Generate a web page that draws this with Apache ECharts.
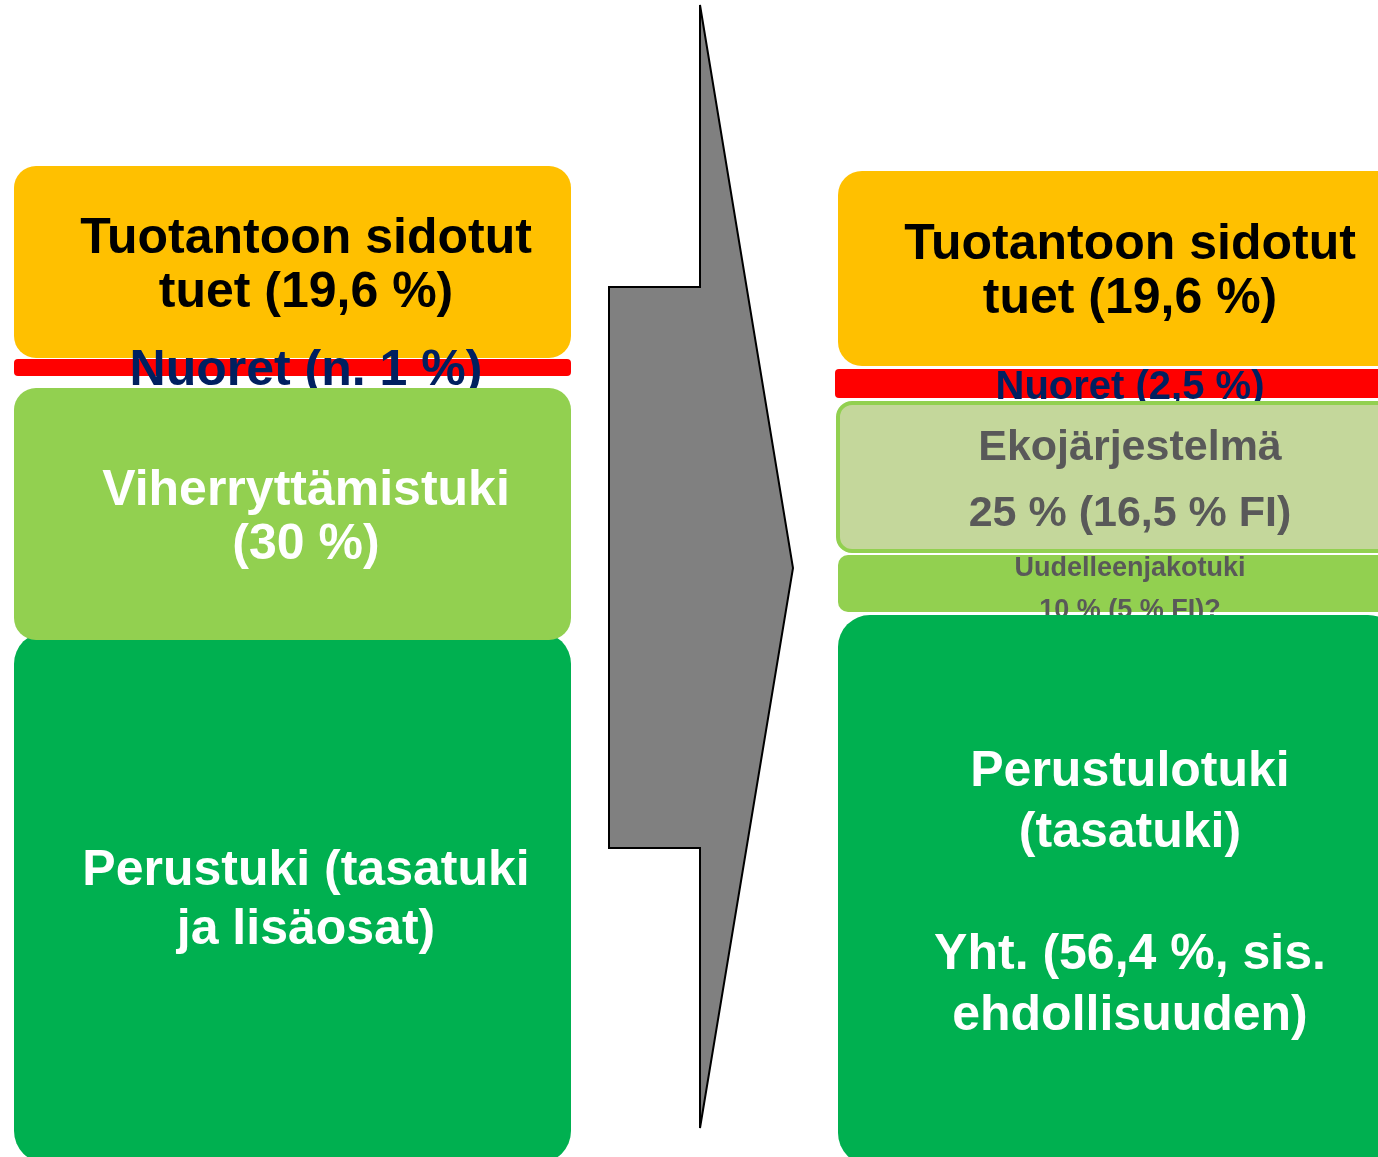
<!DOCTYPE html>
<html>
<head>
<meta charset="utf-8">
<script src="https://cdn.jsdelivr.net/npm/echarts@6/dist/echarts.min.js"></script>
<style>
  html, body { margin: 0; padding: 0; background: #fff; }
  #chart { width: 1378px; height: 1157px; }
</style>
</head>
<body>
<div id="chart"></div>
<script>
// nykyinen malli (vasen) ja uusi malli (oikea), lohkojen ylä- ja alareunat y-akselilla
var leftLabels = ['Tuotantoon sidotut\ntuet (19,6 %)', 'Nuoret (n. 1 %)', 'Viherryttämistuki\n(30 %)', 'Perustuki (tasatuki\nja lisäosat)'];
var leftTop = [166, 359, 388, 632];
var leftBottom = [358, 376, 640, 1163];

var rightLabels = ['Tuotantoon sidotut\ntuet (19,6 %)', 'Nuoret (2,5 %)', 'Ekojärjestelmä\n25 % (16,5 % FI)', 'Uudelleenjakotuki\n10 % (5 % FI)?', 'Perustulotuki\n(tasatuki)\n\nYht. (56,4 %, sis.\nehdollisuuden)'];
var rightTop = [171, 369, 403, 555, 615];
var rightBottom = [366, 398, 551, 612, 1165];

// nuoli
var arrowX = [609, 700, 700, 793, 700, 700, 609];
var arrowY = [287, 287, 5, 568, 1128, 848, 848];

var colX = [[14, 571], [838, 1400]];
var textX = [306, 1130];
var font = '"Liberation Sans", Arial, sans-serif';
var styles = [
  [
    { fill: '#FFC000', r: 22, color: '#000', size: 50, lh: 54, z: 1 },
    { fill: '#FF0000', r: 4, color: '#002060', size: 50, lh: 54, z: 2 },
    { fill: '#92D050', r: 22, color: '#fff', size: 50, lh: 54, z: 4 },
    { fill: '#00B050', r: 32, color: '#fff', size: 50, lh: 59, z: 3, dy: -1 }
  ],
  [
    { fill: '#FFC000', r: 24, color: '#000', size: 50, lh: 54, z: 1 },
    { fill: '#FF0000', r: 4, color: '#002060', size: 40, lh: 44, z: 2, x0: 835 },
    { fill: '#C4D79B', r: 14, color: '#595959', size: 43, lh: 66, z: 3, stroke: '#92D050', lw: 4 },
    { fill: '#92D050', r: 10, color: '#595959', size: 27, lh: 42, z: 4, dy: 2 },
    { fill: '#00B050', r: 32, color: '#fff', size: 50, lh: 61, z: 5, dy: 0 }
  ]
];

var blocks = [];
leftLabels.forEach(function (l, i) { blocks.push([0, leftTop[i], leftBottom[i], i]); });
rightLabels.forEach(function (l, i) { blocks.push([1, rightTop[i], rightBottom[i], i]); });

var chart = echarts.init(document.getElementById('chart'), null, { renderer: 'canvas' });
chart.setOption({
  animation: false,
  grid: { left: 0, right: 0, top: 0, bottom: 0 },
  xAxis: { type: 'value', min: 0, max: 1378, show: false },
  yAxis: { type: 'value', min: 0, max: 1157, inverse: true, show: false },
  series: [
    {
      type: 'custom',
      clip: false,
      data: blocks,
      renderItem: function (params, api) {
        var col = api.value(0), i = api.value(3);
        var s = styles[col][i];
        var p0 = api.coord([s.x0 || colX[col][0], api.value(1)]);
        var p1 = api.coord([colX[col][1], api.value(2)]);
        var label = (col === 0 ? leftLabels : rightLabels)[i];
        return {
          type: 'group',
          children: [
            {
              type: 'rect',
              z2: s.z * 10,
              shape: { x: p0[0], y: p0[1], width: p1[0] - p0[0], height: p1[1] - p0[1], r: s.r },
              style: { fill: s.fill, stroke: s.stroke || null, lineWidth: s.lw || 0 }
            },
            {
              type: 'text',
              z2: s.z * 10 + 1,
              style: {
                text: label,
                x: api.coord([textX[col], 0])[0],
                y: (p0[1] + p1[1]) / 2 + 4 + (s.dy || 0),
                align: 'center',
                verticalAlign: 'middle',
                fontFamily: font,
                fontWeight: 'bold',
                fontSize: s.size,
                lineHeight: s.lh,
                fill: s.color
              }
            }
          ]
        };
      }
    },
    {
      type: 'custom',
      clip: false,
      data: [0],
      renderItem: function (params, api) {
        var pts = arrowX.map(function (x, k) { return api.coord([x, arrowY[k]]); });
        return {
          type: 'polygon',
          shape: { points: pts },
          style: { fill: '#808080', stroke: '#000', lineWidth: 2 }
        };
      }
    }
  ]
});
</script>
</body>
</html>
